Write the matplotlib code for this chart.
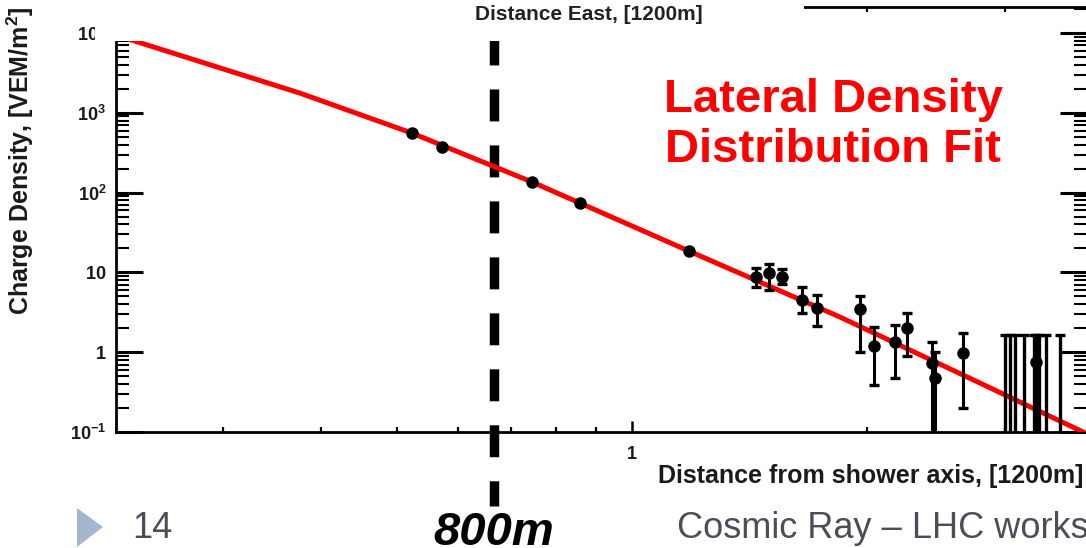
import numpy as np
import matplotlib.pyplot as plt
from matplotlib.patches import Rectangle, Polygon
from matplotlib.ticker import FixedLocator, FixedFormatter, LogLocator, NullFormatter

plt.rcParams['font.family'] = ['Liberation Sans', 'DejaVu Sans']
plt.rcParams['mathtext.fontset'] = 'custom'
plt.rcParams['mathtext.rm'] = 'Liberation Sans'
plt.rcParams['mathtext.bf'] = 'Liberation Sans:bold'
plt.rcParams['lines.scale_dashes'] = False

# station signals; distance in units of 1200 m
dist = [0.523, 0.571, 0.745, 0.858, 1.183, 1.441, 1.497, 1.555, 1.650,
        1.724, 1.957, 2.04, 2.17, 2.25, 2.42, 2.44, 2.65, 3.29]
density = [558, 372, 136, 74, 18.5, 8.75, 9.83, 8.75, 4.51,
           3.58, 3.48, 1.196, 1.34, 2.01, 0.733, 0.475, 0.977, 0.753]
density_lo = [558, 372, 136, 74, 18.5, 6.56, 6.0, 7.2, 3.10,
              2.13, 1.006, 0.388, 0.475, 0.896, 0.08, 0.08, 0.2, 0.08]
density_hi = [558, 372, 136, 74, 18.5, 11.4, 12.7, 11.0, 6.56,
              5.21, 5.06, 2.07, 2.19, 3.10, 1.34, 1.0, 1.74, 1.63]

# silent stations, drawn as bars up to the upper limit
silent_dist = [3.00, 3.04, 3.09, 3.17, 3.27, 3.31, 3.38, 3.53]
silent_top = [1.63] * len(silent_dist)
silent_floor = 0.08

# lateral distribution fit
fit_dist = [0.219, 0.2335, 0.376, 0.523, 0.745, 1.183, 1.845, 2.786, 3.774]
fit_density = [9440, 7710, 1770, 558, 136, 18.5, 2.76, 0.411, 0.1]

ref_dist = 800 / 1200

y_ticks = [0.1, 1, 10, 100, 1000, 10000]
y_labels = [r'$\mathbf{10^{-1}}$', r'$\mathbf{1}$', r'$\mathbf{10}$',
            r'$\mathbf{10^{2}}$', r'$\mathbf{10^{3}}$', r'$\mathbf{10^{4}}$']

W, H = 1086, 548
fig = plt.figure(figsize=(W / 100, H / 100), dpi=100)
fig.patch.set_facecolor('white')
ax = fig.add_axes([116 / W, 1 - 432 / H, (1087 - 116) / W, (432 - 7) / H])

ax.set_xscale('log')
ax.set_yscale('log')
ax.set_xlim(0.2189, 3.818)
ax.set_ylim(0.1, 2.12e4)

# dashed marker at 800 m
ax.plot([ref_dist, ref_dist], [0.939, -0.174], transform=ax.get_xaxis_transform(),
        color='black', lw=6.8, linestyle=(0, (23, 17.3)), solid_capstyle='butt',
        clip_on=False, zorder=2)

ax.plot(fit_dist, fit_density, color='#ff0000', lw=3.6, zorder=3)

d = np.array(density)
yerr = [d - np.array(density_lo), np.array(density_hi) - d]
ax.errorbar(dist, density, yerr=yerr, fmt='o', color='black', ms=8,
            elinewidth=2.2, capsize=3.5, capthick=2.4, zorder=4)

ax.vlines(silent_dist, silent_floor, silent_top, color='black', lw=2.4, zorder=4)
ax.plot(silent_dist, silent_top, ls='none', marker='_', ms=7, mew=2.4,
        color='black', zorder=4)

for s in ax.spines.values():
    s.set_linewidth(2.0)

ax.yaxis.set_major_locator(FixedLocator(y_ticks))
ax.yaxis.set_major_formatter(FixedFormatter(y_labels))
ax.yaxis.set_minor_locator(LogLocator(base=10, subs=np.arange(2, 10), numticks=20))
ax.yaxis.set_minor_formatter(NullFormatter())
ax.xaxis.set_major_locator(FixedLocator([1]))
ax.xaxis.set_major_formatter(FixedFormatter(['1']))
ax.xaxis.set_minor_locator(LogLocator(base=10, subs=np.arange(2, 10), numticks=20))
ax.xaxis.set_minor_formatter(NullFormatter())

ax.tick_params(axis='y', which='major', direction='in', length=19.5, width=2.2,
               left=True, right=True, labelsize=13, pad=7)
ax.tick_params(axis='y', which='minor', direction='in', length=9.5, width=1.5,
               left=True, right=True)
ax.tick_params(axis='x', which='major', direction='in', length=8, width=1.8,
               top=True, labelsize=13, pad=10)
ax.tick_params(axis='x', which='minor', direction='in', length=3.8, width=1.6,
               top=True)
for lbl in ax.get_xticklabels() + ax.get_yticklabels():
    lbl.set_fontweight('bold')
    lbl.set_color('#1a1a1a')

ax.set_xlabel('Distance from shower axis, [1200m]', fontsize=18, fontweight='bold',
              color='#1a1a1a', ha='right', va='center')
ax.xaxis.set_label_coords(1 - 4 / 971, (432 - 476) / 425)
ax.set_ylabel(r'Charge Density, [VEM/m$^{\mathbf{2}}$]', fontsize=18,
              fontweight='bold', color='#1a1a1a', va='center')
ax.yaxis.set_label_coords((20 - 116) / 971, (432 - 161) / 425)

# white band holding the upper axis title
fig.add_artist(Rectangle((95 / W, 1 - 41 / H), (804 - 95) / W, 41 / H,
                         transform=fig.transFigure, facecolor='white',
                         edgecolor='none', zorder=5))
fig.text(589 / W, 1 - 15 / H, 'Distance East, [1200m]', ha='center', va='center',
         fontsize=15, fontweight='bold', color='#222222', zorder=6)

fig.text(833 / W, 1 - 125 / H, 'Lateral Density\nDistribution Fit', ha='center',
         va='center', fontsize=34, fontweight='bold', color='#ff0000',
         linespacing=1.15, zorder=6)

# slide footer
fig.add_artist(Polygon([[77 / W, 1 - 508 / H], [103 / W, 1 - 527 / H], [77 / W, 1 - 547 / H]],
                       closed=True, transform=fig.transFigure,
                       facecolor='#a3b8cf', edgecolor='none', zorder=6))
fig.text(132 / W, 1 - 538 / H, '14', fontsize=26, color='#4d4d5a', va='baseline', zorder=6)
fig.text(494 / W, 1 - 545 / H, '800m', fontsize=34, fontweight='bold',
         fontstyle='italic', ha='center', va='baseline', color='black', zorder=6)
fig.text(677 / W, 1 - 538 / H, 'Cosmic Ray \u2013 LHC workshop', fontsize=26,
         color='#4d4d5a', va='baseline', zorder=6)

fig.savefig('out.png', dpi=100)
